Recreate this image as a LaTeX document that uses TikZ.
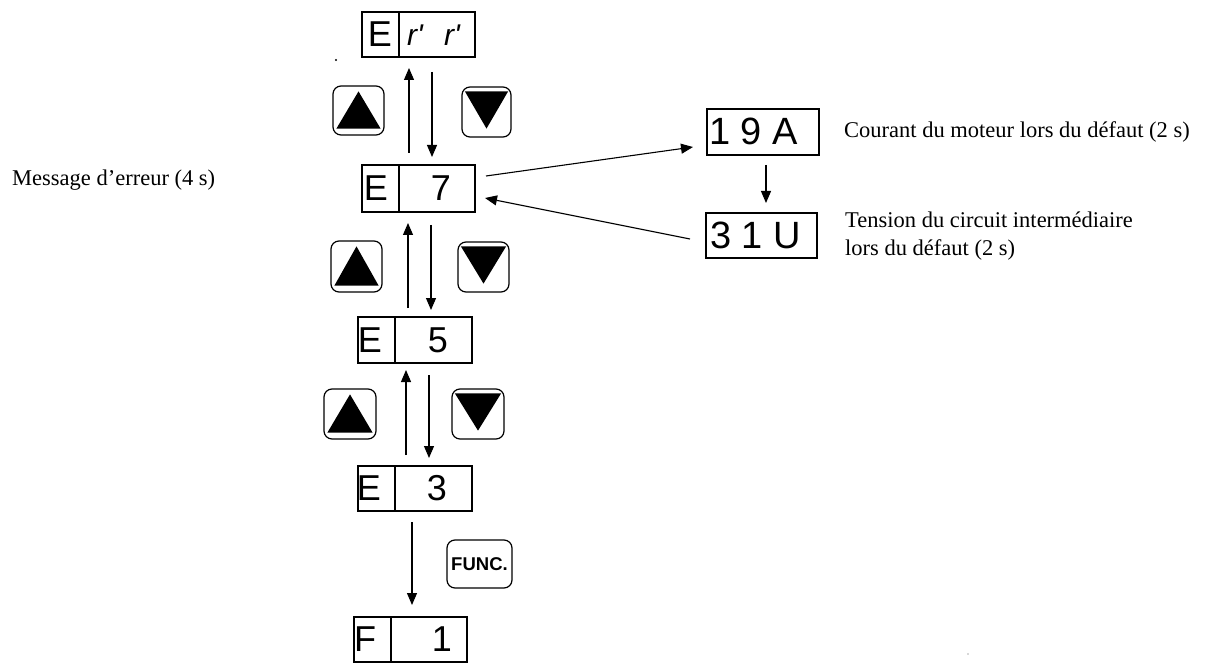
\documentclass[tikz,border=0pt]{standalone}
\usepackage{fontspec}
\setmainfont{Liberation Serif}
\newfontfamily\segfont{Liberation Sans}
\usetikzlibrary{arrows.meta,calc}

\begin{document}
\begin{tikzpicture}[x=1pt,y=-1pt,
  disp/.style={draw,line width=1.2pt,minimum width=113pt,minimum height=45pt,inner sep=0pt,outer sep=0pt},
  digit/.style={font=\segfont\fontsize{36}{36}\selectfont,inner sep=0pt},
  bigdigit/.style={font=\segfont\fontsize{38}{38}\selectfont,inner sep=0pt},
  segr/.style={font=\segfont\itshape\fontsize{30}{30}\selectfont,inner sep=0pt},
  keybox/.style={draw,line width=1.2pt,rounded corners=8pt,minimum width=51pt,minimum height=50pt,inner sep=0pt},
  lbl/.style={font=\fontsize{22.5}{28}\selectfont,inner sep=0pt,anchor=west,align=left},
  flow/.style={line width=1.1pt,-{Triangle[length=12pt,width=10pt]}},
  divider/.style={line width=1.2pt}
]
\fill[white] (0,0) rectangle (1205,663);
\useasboundingbox (0,0) rectangle (1205,663);

% ---- display boxes of the fault list ----
\node[disp] (err) at (418.5,34.5) {};
\node[disp,minimum height=47pt] (e7) at (418.5,188.5) {};
\node[disp,minimum width=114pt,minimum height=46pt] (e5) at (415,340) {};
\node[disp,minimum width=114pt] (e3) at (415,488.5) {};
\node[disp] (f1) at (410.5,639.5) {};

\foreach \b in {err,e7,e5,e3,f1}
  \draw[divider] ($(\b.north west)+(37,0)$) -- ($(\b.south west)+(37,0)$);

\node[digit] (errE) at ($(err.center)+(-38.5,0)$) {E};
\node[segr] (errR1) at ($(err.center)+(-3.5,0.5)$) {r'};
\node[segr] (errR2) at ($(err.center)+(33.5,0.5)$) {r'};

\node[digit] (e7E) at ($(e7.center)+(-42.5,0)$) {E};
\node[digit] (e7N) at ($(e7.center)+(22.5,0)$) {7};
\node[digit] (e5E) at ($(e5.center)+(-45,0)$) {E};
\node[digit] (e5N) at ($(e5.center)+(23,0)$) {5};
\node[digit] (e3E) at ($(e3.center)+(-46,0)$) {E};
\node[digit] (e3N) at ($(e3.center)+(22,0)$) {3};
\node[digit] (f1F) at ($(f1.center)+(-45.5,0)$) {F};
\node[digit] (f1N) at ($(f1.center)+(31.5,0)$) {1};

% ---- fault data boxes ----
\node[disp,minimum width=112pt,minimum height=46pt] (a19) at (763,132) {};
\node[bigdigit] (a19t) at ($(a19.center)+(-9.5,-1)$) {1 9 A};
\node[disp,minimum width=111pt] (u31) at (761.5,235.5) {};
\node[bigdigit] (u31t) at ($(u31.center)+(-6,0)$) {3 1 U};

% ---- keys ----
\node[keybox,minimum height=49pt] (up1) at (358.5,110.5) {};
\node[keybox,minimum width=49pt] (dn1) at (486.5,112) {};
\node[keybox,minimum height=51pt] (up2) at (356.5,266.5) {};
\node[keybox] (dn2) at (483.5,267) {};
\node[keybox,minimum width=52pt] (up3) at (350,414) {};
\node[keybox,minimum width=52pt] (dn3) at (478,414) {};
\node[keybox,minimum width=65pt,minimum height=48pt,
      font=\segfont\bfseries\fontsize{18.5}{18.5}\selectfont] (func) at (479.5,564) {FUNC.};

\foreach \k in {up1,up2,up3}
  \fill ($(\k.south west)+(4,-7)$) -- ($(\k.south east)+(-4,-7)$) -- ($(\k.north)+(0,6)$) -- cycle;
\foreach \k in {dn1,dn2,dn3}
  \fill ($(\k.north west)+(3.5,5)$) -- ($(\k.north east)+(-3.5,5)$) -- ($(\k.south)+(0,-9)$) -- cycle;

% ---- scrolling arrows ----
\draw[flow] ($(e7.north)+(-9.5,-12)$) -- ($(err.south)+(-9.5,11)$);
\draw[flow] ($(err.south)+(13.5,15)$) -- ($(e7.north)+(13.5,-8)$);
\draw[flow] ($(e5.north)+(-7,-9)$) -- ($(e5.north |- e7.south)+(-7,11)$);
\draw[flow] ($(e5.north |- e7.south)+(16,13)$) -- ($(e5.north)+(16,-7)$);
\draw[flow] ($(e3.north)+(-9,-11)$) -- ($(e5.south)+(-9,7)$);
\draw[flow] ($(e5.south)+(14,12)$) -- ($(e3.north)+(14,-8)$);
\draw[flow] ($(e3.south)+(-3,11)$) -- ($(e3.south |- f1.north)+(-3,-12)$);

% ---- fault data cycle ----
\draw[flow] ($(e7.east)+(11,-12.5)$) -- ($(a19.west)+(-14,15)$);
\draw[flow] ($(a19.south)+(3,10)$) -- ($(a19.south |- u31.north)+(3,-10)$);
\draw[flow] ($(u31.west)+(-16,3.5)$) -- ($(e7.east)+(10,9.5)$);

% ---- labels ----
\node[lbl] (msg) at (12,180) {Message d'erreur (4 s)};
\node[lbl] (cur) at (844,132) {Courant du moteur lors du défaut (2 s)};
\node[lbl] (ten) at (845,236) {Tension du circuit intermédiaire\\lors du défaut (2 s)};

% ---- specks ----
\fill (336,60) circle (1.2);
\fill[gray!60] (968,654) circle (0.9);
\end{tikzpicture}
\end{document}
